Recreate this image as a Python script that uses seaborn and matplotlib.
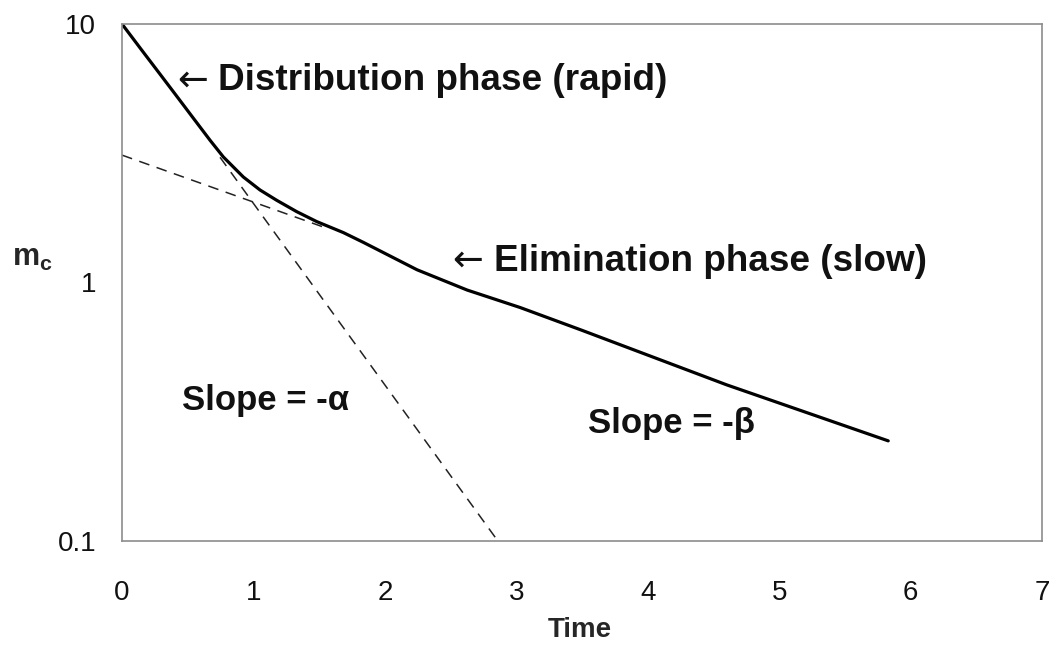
import numpy as np
import pandas as pd
import matplotlib
matplotlib.use("Agg")
import matplotlib.pyplot as plt
from matplotlib.ticker import FixedLocator, FixedFormatter, NullLocator
import seaborn as sns

# ---- data ----
curve_t = [0.0, 0.162, 0.289, 0.416, 0.543, 0.670, 0.771, 0.923, 1.050, 1.177,
           1.329, 1.482, 1.684, 1.836, 2.245, 2.626, 3.03, 3.49, 4.60, 5.83]
curve_c = [10.0, 7.78, 6.40, 5.26, 4.32, 3.55, 3.06, 2.56, 2.28, 2.08,
           1.88, 1.72, 1.56, 1.43, 1.12, 0.935, 0.80, 0.656, 0.402, 0.244]

alpha_t = [0.746, 2.86]
alpha_c = [3.05, 0.1]

beta_t = [0.0, 1.56]
beta_c = [3.11, 1.62]

x_ticks = [0, 1, 2, 3, 4, 5, 6, 7]
y_ticks = [0.1, 1, 10]
y_tick_labels = ["0.1", "1", "10"]

# ---- style ----
sns.set_theme(style="white")
plt.rcParams['font.family'] = ['Liberation Sans', 'DejaVu Sans']
plt.rcParams['mathtext.fontset'] = 'custom'
plt.rcParams['mathtext.rm'] = 'Liberation Sans'
plt.rcParams['mathtext.bf'] = 'Liberation Sans:bold'

fig = plt.figure(figsize=(10.52, 6.62), dpi=100)
ax = fig.add_axes([122/1052, 1 - 541/662, (1042-122)/1052, (541-24)/662])

df_curve = pd.DataFrame({"t": curve_t, "c": curve_c})
df_alpha = pd.DataFrame({"t": alpha_t, "c": alpha_c})
df_beta = pd.DataFrame({"t": beta_t, "c": beta_c})

sns.lineplot(data=df_beta, x="t", y="c", ax=ax, color="#222222", lw=1.1,
             linestyle=(0, (7, 5)), sort=False, estimator=None)
sns.lineplot(data=df_alpha, x="t", y="c", ax=ax, color="#222222", lw=1.1,
             linestyle=(0, (7, 5)), sort=False, estimator=None)
sns.lineplot(data=df_curve, x="t", y="c", ax=ax, color="black", lw=2.3,
             sort=False, estimator=None)

ax.set_yscale("log")
ax.set_xlim(0, 7)
ax.set_ylim(0.1, 10)
ax.xaxis.set_major_locator(FixedLocator(x_ticks))
ax.yaxis.set_major_locator(FixedLocator(y_ticks))
ax.yaxis.set_major_formatter(FixedFormatter(y_tick_labels))
ax.yaxis.set_minor_locator(NullLocator())
ax.xaxis.set_minor_locator(NullLocator())

for s in ax.spines.values():
    s.set_color("#8c8c8c")
    s.set_linewidth(1.2)
ax.tick_params(axis="x", direction="out", length=8, width=1.2, color="#666666",
               labelsize=20, pad=20, labelcolor="#111111")
ax.tick_params(axis="y", direction="out", length=6.5, width=1.2, color="#666666",
               labelsize=20, pad=12, labelcolor="#111111")
ax.set_xlabel("")
ax.set_ylabel("")

fig.text(580/1052, 1 - 630/662, "Time", ha="center", va="center",
         fontsize=20, fontweight="bold")
fig.text(12/1052, 1 - 258/662, r"$\mathbf{m}_\mathbf{c}$", ha="left", va="center",
         fontsize=22)

# annotations
arrow_kw = dict(fontsize=26.6, family=["DejaVu Sans"], fontweight="normal",
                ha="left", va="baseline", color="#111111")
text_kw = dict(fontsize=26.6, fontweight="bold", ha="left", va="baseline",
               color="#111111")
ax.text(0.419, 5.54, "\u2190", **arrow_kw)
ax.text(0.731, 5.54, "Distribution phase (rapid)", **text_kw)
ax.text(2.511, 1.107, "\u2190", **arrow_kw)
ax.text(2.831, 1.107, "Elimination phase (slow)", **text_kw)
ax.text(0.457, 0.322, "Slope = -\u03b1", fontsize=25, fontweight="bold",
        ha="left", va="baseline", color="#111111")
ax.text(3.546, 0.262, "Slope = -\u03b2", fontsize=25, fontweight="bold",
        ha="left", va="baseline", color="#111111")

fig.savefig("out.png", dpi=100)
